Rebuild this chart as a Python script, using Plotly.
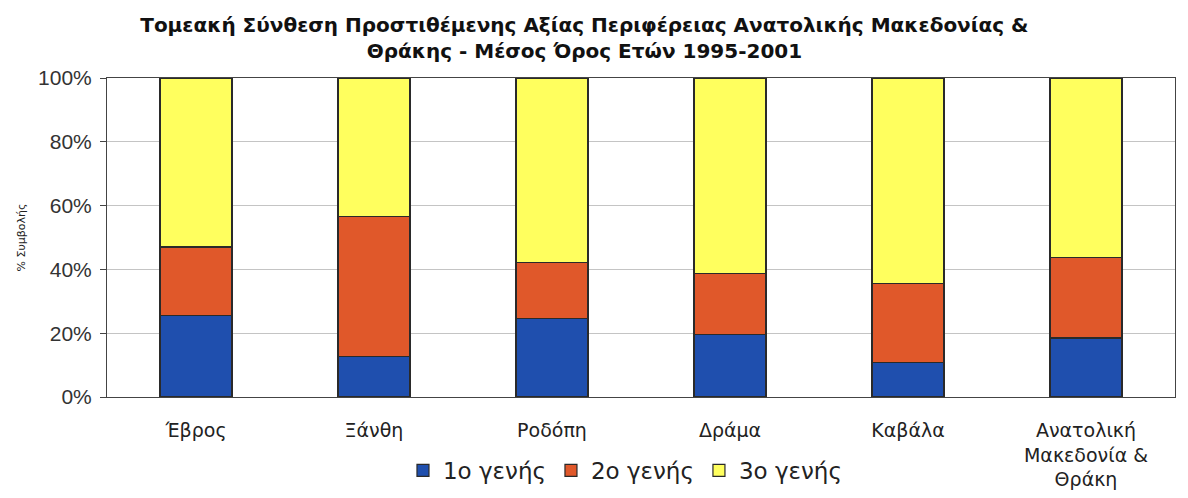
import plotly.graph_objects as go

# Regions and shares (%) of value added per sector
regions = ["Έβρος", "Ξάνθη", "Ροδόπη", "Δράμα", "Καβάλα", "Ανατολική<br>Μακεδονία &<br>Θράκη"]
primary = [25.5, 12.6, 24.5, 19.6, 10.7, 18.5]
secondary = [21.5, 44.1, 17.6, 19.0, 24.8, 25.2]
tertiary = [53.0, 43.3, 57.9, 61.4, 64.5, 56.3]

series_names = ["1ο γενής", "2ο γενής", "3ο γενής"]
colors = ["#1f4fae", "#e0582a", "#ffff5e"]

fig = go.Figure()
for name, vals, col in zip(series_names, [primary, secondary, tertiary], colors):
    fig.add_trace(go.Bar(x=regions, y=vals, name=name,
                         marker=dict(color=col, line=dict(color="#2a2a2a", width=1.2))))

# page body has an 8px margin, so the figure is a bit smaller than the window
fig.update_layout(
    barmode="stack",
    barnorm="percent",
    bargap=0.595,
    width=1180, height=490,
    margin=dict(l=99, r=13, t=70, b=101, autoexpand=False),
    paper_bgcolor="white",
    plot_bgcolor="white",
    font=dict(family="DejaVu Sans, Liberation Sans, sans-serif", color="#222"),
    title=dict(text="<b>Τομεακή Σύνθεση Προστιθέμενης Αξίας Περιφέρειας Ανατολικής Μακεδονίας &<br>Θράκης - Μέσος Όρος Ετών 1995-2001</b>",
               x=0.447, xref="paper", xanchor="center", y=0.952, yanchor="middle",
               font=dict(size=20, color="#111")),
    legend=dict(orientation="h", x=0.485, xanchor="center", y=-0.23, yanchor="middle",
                font=dict(size=23, color="#222"), itemwidth=30, traceorder="normal"),
)

fig.update_yaxes(range=[0, 100], dtick=20, ticksuffix="%", automargin=False,
                 tickfont=dict(size=21, family="Liberation Sans, Arial, sans-serif", color="#333"),
                 ticks="outside", ticklen=6, tickcolor="#444", ticklabelstandoff=4,
                 showgrid=True, gridcolor="#c4c4c4",
                 showline=True, linecolor="#444", mirror=True, zeroline=False,
                 title=dict(text="% Συμβολής", font=dict(size=11), standoff=10))
fig.update_xaxes(tickfont=dict(size=19), showline=True, linecolor="#444", mirror=True,
                 automargin=False, ticklabelstandoff=16)

fig.write_html("out.html")
